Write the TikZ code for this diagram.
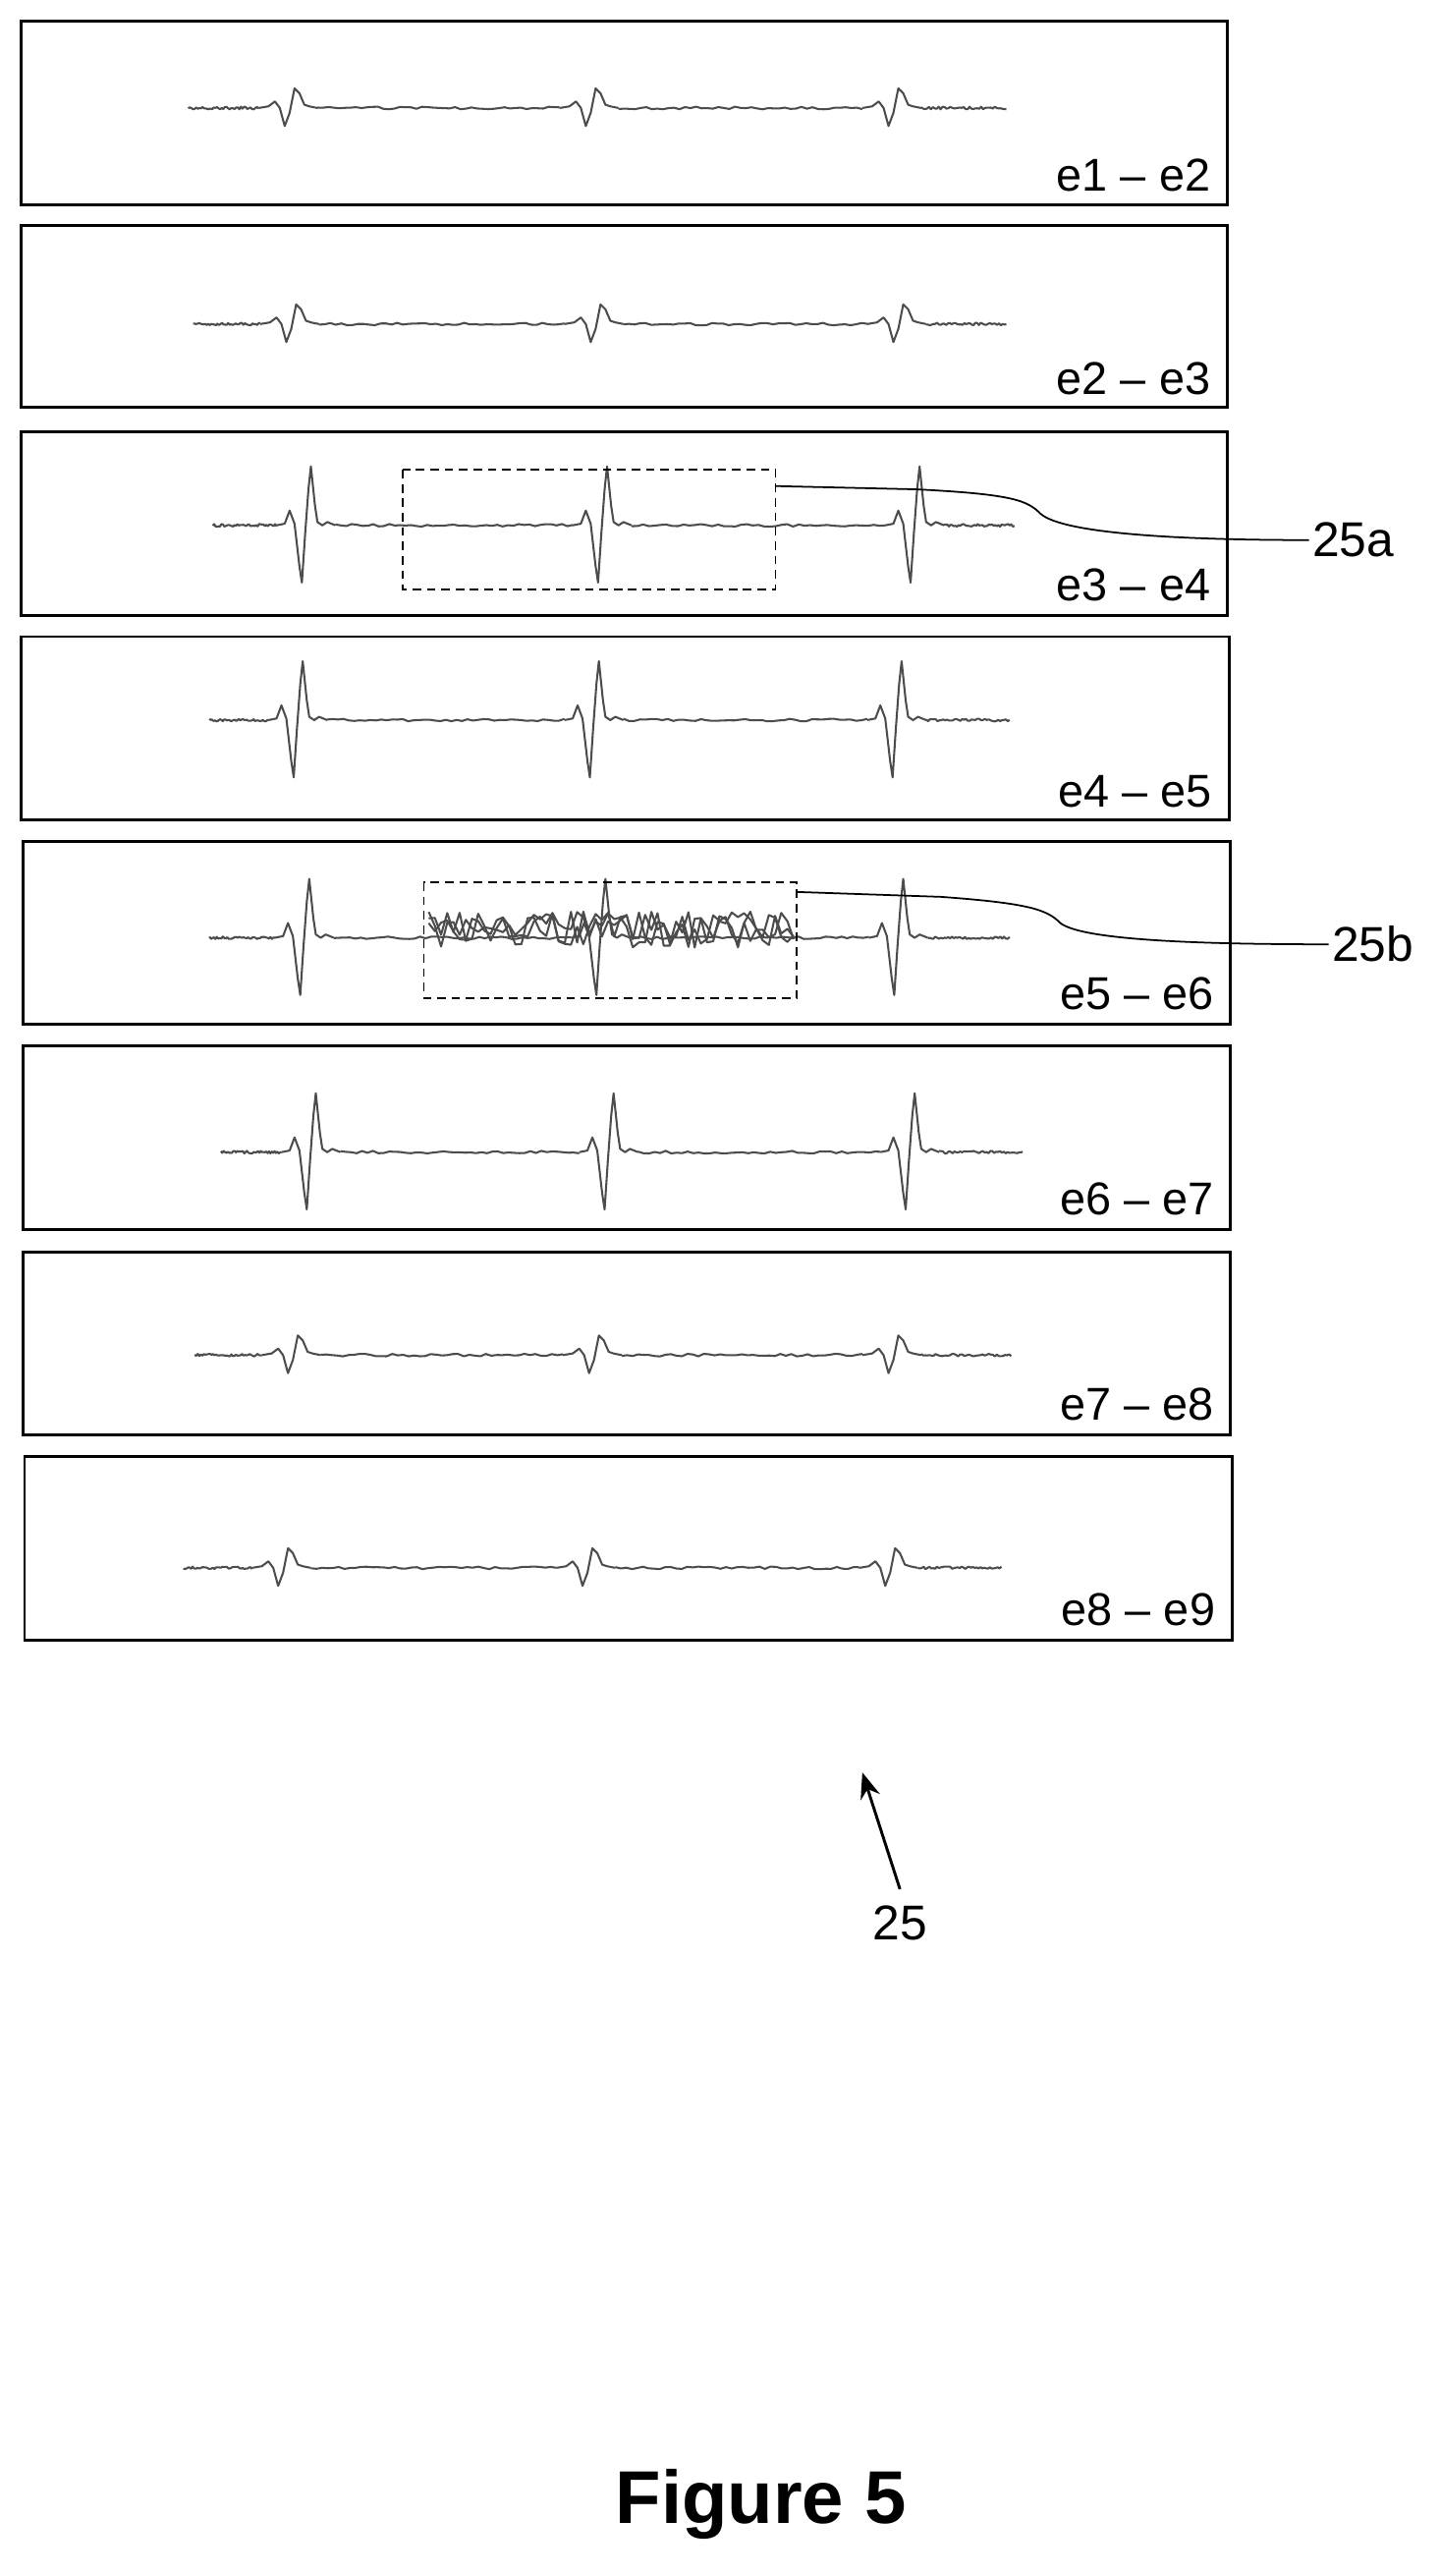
\documentclass[tikz,border=0pt]{standalone}
\usepackage{fontspec}
\setmainfont{Liberation Sans}
\usetikzlibrary{arrows.meta}
\begin{document}
\begin{tikzpicture}[x=0.02cm,y=-0.02cm,
  panel/.style={draw=black,line width=1pt},
  wave/.style={draw=black!70,line width=0.7pt,line join=round},
  lab/.style={anchor=base east,font=\fontsize{16}{18}\selectfont,inner sep=0pt},
  ref/.style={font=\fontsize{17}{20}\selectfont,inner sep=1pt},
  box/.style={draw=black,dashed,line width=0.6pt,dash pattern=on 3pt off 2pt},
  small/.pic={\draw[wave] (-18,0) -- (-12,-1) -- (-8,-4) -- (-5,0) -- (-2,11) -- (1,3) -- (4,-12) -- (7,-9) -- (10,-2) -- (13,-1) -- (18,0);},
  big/.pic={\draw[wave] (-18,0) -- (-13,-1) -- (-10,-9) -- (-7,-1) -- (-4,25) -- (-2.5,35) -- (-0.5,5) -- (1.5,-22) -- (3,-36) -- (5.5,-12) -- (7,-2) -- (10,0) -- (13,-2) -- (18,0);}
]
\useasboundingbox (0,0) rectangle (880,1574);
\pgfmathsetseed{7}
\newcommand\trace[7]{%
  \foreach \a/\b [evaluate=\a as \aa using \a, evaluate=\b as \bb using \b] in {#2/#4-18,#4+18/#5-18,#5+18/#6-18,#6+18/#3}
    \draw[wave] plot[domain=\aa:\bb,samples=45] (\x,{#1+0.8*rand});
  \foreach \c in {#4,#5,#6} \pic at (\c,#1) {#7};
}
% panels
\draw[panel] (13,13) rectangle (750,125);
\draw[panel] (13,138) rectangle (750,249);
\draw[panel] (13,264) rectangle (750,376);
\draw[panel] (13,389) rectangle (751,501);
\draw[panel] (14,514) rectangle (752,626);
\draw[panel] (14,639) rectangle (752,751);
\draw[panel] (14,765) rectangle (752,877);
\draw[panel] (15,890) rectangle (753,1002);
% labels
\node[lab] (l1) at (740,117) {e1 – e2};
\node[lab] (l2) at (740,241) {e2 – e3};
\node[lab] (l3) at (740,367) {e3 – e4};
\node[lab] (l4) at (741,493) {e4 – e5};
\node[lab] (l5) at (742,617) {e5 – e6};
\node[lab] (l6) at (742,742) {e6 – e7};
\node[lab] (l7) at (742,868) {e7 – e8};
\node[lab] (l8) at (743,993) {e8 – e9};
% traces
\trace{66}{115}{615}{176}{360}{545}{small}
\trace{198}{118}{615}{177}{363}{548}{small}
\trace{321}{130}{620}{187}{368}{559}{big}
\trace{440}{128}{617}{182}{363}{548}{big}
\trace{573}{128}{617}{186}{367}{549}{big}
\trace{704}{135}{625}{190}{372}{556}{big}
\trace{828}{119}{618}{178}{362}{545}{small}
\trace{958}{112}{612}{172}{358}{543}{small}
% noise in panel 5
\foreach \k in {1,2,3}
  \draw[wave] plot[domain=262:485,samples=60] (\x,{573-5+11*rand});
% dashed boxes
\draw[box] (246,287) rectangle (474,360);
\coordinate (b1) at (474,297);
\draw[box] (259,539) rectangle (487,610);
\coordinate (b2) at (487,545);
\node[ref,anchor=west] (r1) at (800,330) {25a};
\node[ref,anchor=west] (r2) at (812,577) {25b};
\draw[line width=0.6pt] (b1) -- (560,299) .. controls (620,302) and (628,306) .. (636,314) .. controls (650,326) and (720,330) .. (r1.west);
\draw[line width=0.6pt] (b2) -- (575,548) .. controls (630,552) and (640,556) .. (648,564) .. controls (662,575) and (740,577) .. (r2.west);
% arrow
\node[ref] (r25) at (550,1175) {25};
\coordinate (a25) at (527,1083);
\draw[line width=1pt,-{Stealth[length=9pt,width=7pt]}] (r25.north) ++(0,-8) -- (a25);
\node[font=\bfseries\fontsize{26}{30}\selectfont] (fig) at (465,1530) {Figure 5};
\end{tikzpicture}
\end{document}
